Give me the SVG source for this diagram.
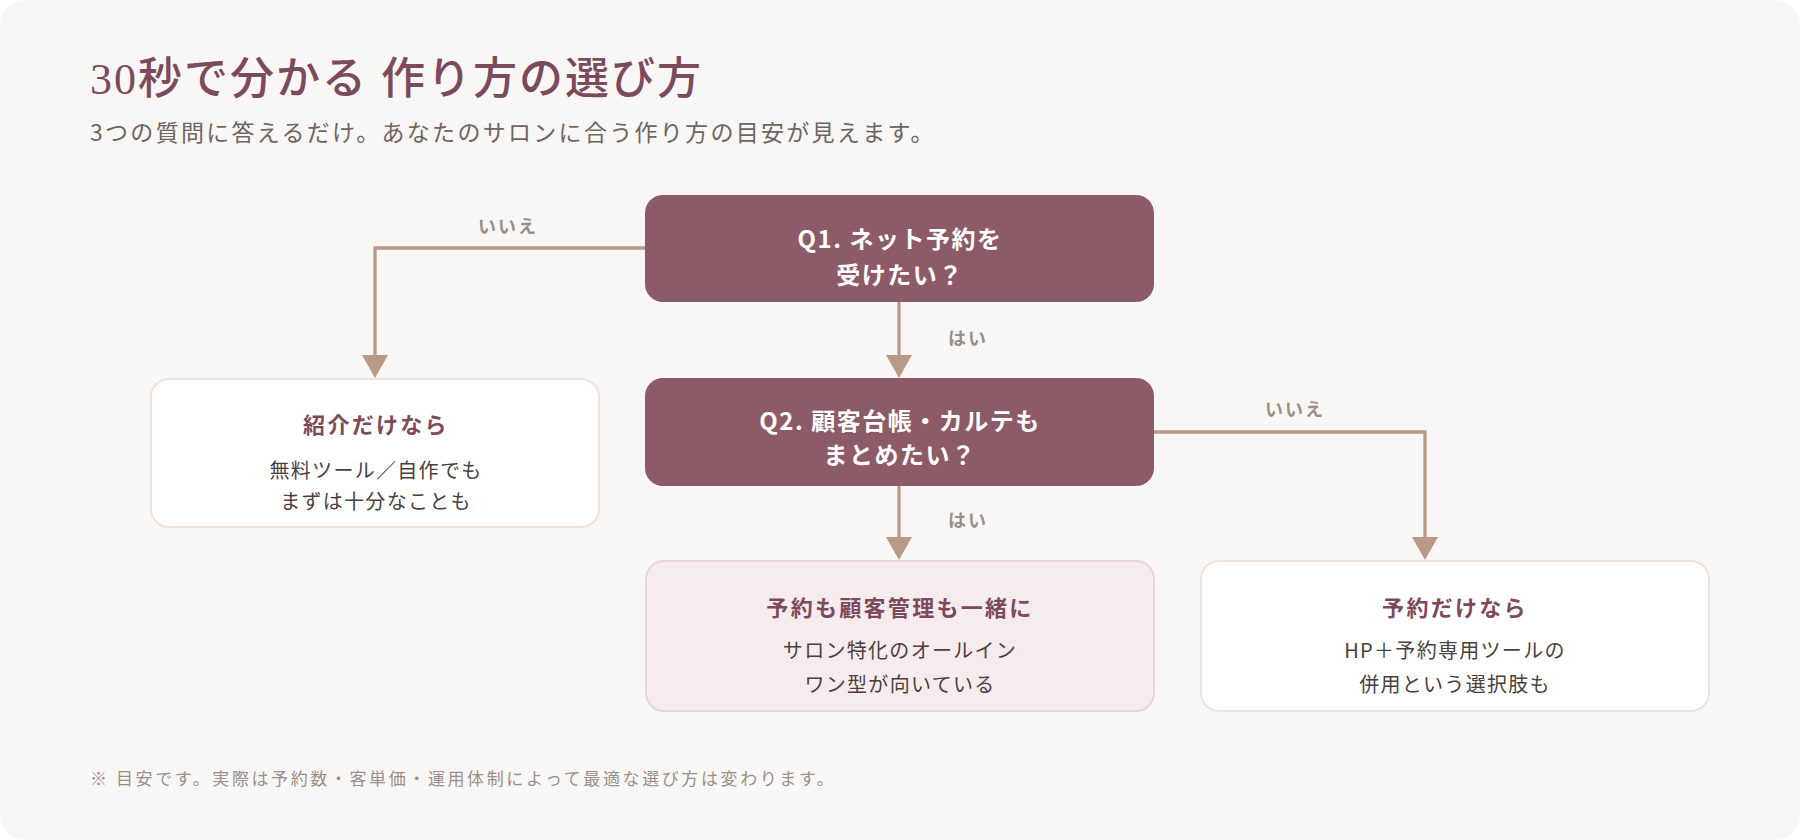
<svg xmlns="http://www.w3.org/2000/svg" width="1800" height="840" viewBox="0 0 1800 840">
  <defs>
    <marker id="arr" viewBox="0 0 23 26" refX="13" refY="13" markerWidth="23" markerHeight="26" markerUnits="userSpaceOnUse" orient="auto">
      <path d="M0,0 L23,13 L0,26 Z" fill="#b99a87"/>
    </marker>
    <style>
      .jp { font-family: "Noto Sans CJK JP", "Noto Sans", sans-serif; }
      .q { fill: #8d5b67; }
      .qt { fill: #ffffff; font-size: 24px; font-weight: 700; letter-spacing: 1.5px; text-anchor: middle; }
      .card { fill: #ffffff; stroke: #ece3dd; stroke-width: 2; }
      .card-pink { fill: #f6ecee; stroke: #ead5da; stroke-width: 2; }
      .ct { fill: #7d4a5c; font-size: 22px; font-weight: 700; letter-spacing: 2.3px; text-anchor: middle; }
      .cb { fill: #4a3f3f; font-size: 20px; letter-spacing: 1.3px; text-anchor: middle; }
      .lbl { fill: #9a8e86; font-size: 18px; font-weight: 700; letter-spacing: 2px; text-anchor: middle; }
      .edge { fill: none; stroke: #b99a87; stroke-width: 3.3; }
    </style>
  </defs>

  <rect x="0" y="0" width="1800" height="840" fill="#ffffff"/>
  <rect x="0" y="0" width="1800" height="840" rx="26" fill="#f9f7f5"/>

  <text x="90" y="94" font-family="Liberation Serif, Noto Sans CJK JP, serif" font-size="44" font-weight="500" fill="#7b4a5c" letter-spacing="2">30秒で分かる 作り方の選び方</text>
  <text class="jp" x="90" y="141" font-size="23" fill="#6e6462" letter-spacing="2.3">3つの質問に答えるだけ。あなたのサロンに合う作り方の目安が見えます。</text>

  <g id="connectors">
    <polyline class="edge" points="645,248 375,248 375,368" marker-end="url(#arr)"/>
    <text class="jp lbl" x="508" y="233">いいえ</text>
    <line class="edge" x1="899" y1="302" x2="899" y2="368" marker-end="url(#arr)"/>
    <text class="jp lbl" x="968" y="345">はい</text>
    <polyline class="edge" points="1154,432 1425,432 1425,550" marker-end="url(#arr)"/>
    <text class="jp lbl" x="1295" y="416">いいえ</text>
    <line class="edge" x1="899" y1="486" x2="899" y2="550" marker-end="url(#arr)"/>
    <text class="jp lbl" x="968" y="527">はい</text>
  </g>

  <g id="q1">
    <rect class="q" x="645" y="195" width="509" height="107" rx="18"/>
    <text class="jp qt" x="900" y="248">Q1. ネット予約を</text>
    <text class="jp qt" x="900" y="284">受けたい？</text>
  </g>

  <g id="q2">
    <rect class="q" x="645" y="378" width="509" height="108" rx="18"/>
    <text class="jp qt" x="900" y="430">Q2. 顧客台帳・カルテも</text>
    <text class="jp qt" x="900" y="464">まとめたい？</text>
  </g>

  <g id="intro-only">
    <rect class="card" x="151" y="379" width="448" height="148" rx="18"/>
    <text class="jp ct" x="376" y="433">紹介だけなら</text>
    <text class="jp cb" x="376" y="478">無料ツール／自作でも</text>
    <text class="jp cb" x="376" y="509">まずは十分なことも</text>
  </g>

  <g id="all-in-one">
    <rect class="card-pink" x="646" y="561" width="508" height="150" rx="18"/>
    <text class="jp ct" x="900" y="616">予約も顧客管理も一緒に</text>
    <text class="jp cb" x="900" y="658">サロン特化のオールイン</text>
    <text class="jp cb" x="900" y="692">ワン型が向いている</text>
  </g>

  <g id="booking-only">
    <rect class="card" x="1201" y="561" width="508" height="150" rx="18"/>
    <text class="jp ct" x="1455" y="616">予約だけなら</text>
    <text class="jp cb" x="1455" y="658">HP＋予約専用ツールの</text>
    <text class="jp cb" x="1455" y="692">併用という選択肢も</text>
  </g>

  <text class="jp" x="90" y="785" font-size="17" fill="#9a8f88" letter-spacing="2.6">※ 目安です。実際は予約数・客単価・運用体制によって最適な選び方は変わります。</text>
</svg>
